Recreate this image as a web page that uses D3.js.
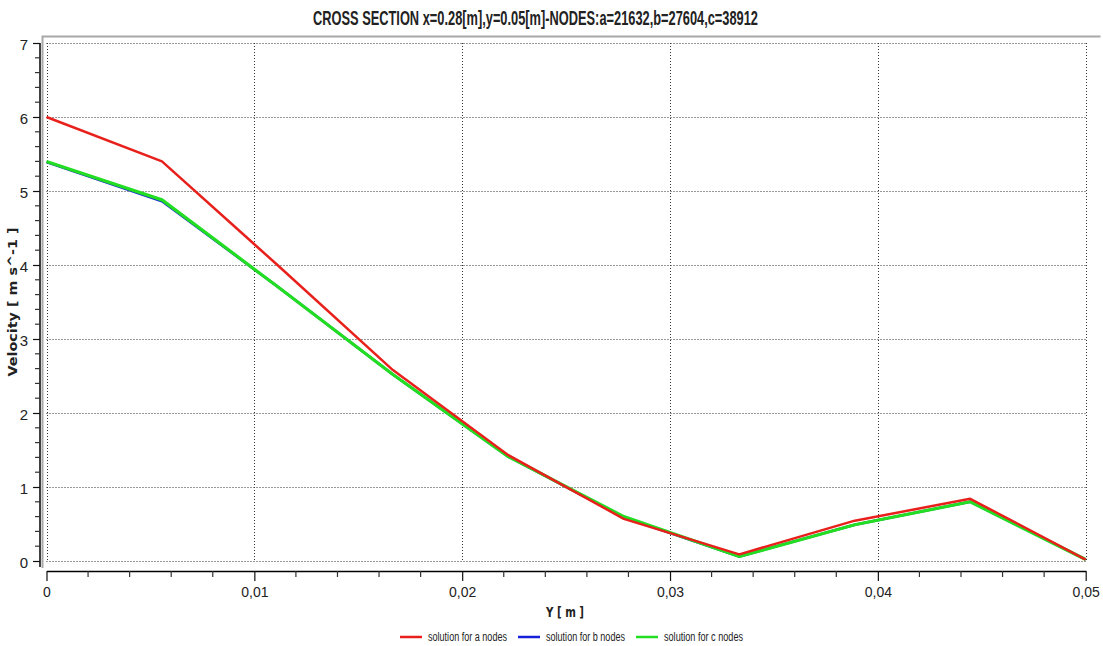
<!DOCTYPE html>
<html>
<head>
<meta charset="utf-8">
<script src="https://cdn.jsdelivr.net/npm/d3@7/dist/d3.min.js"></script>
<style>
  html, body { margin: 0; padding: 0; background: #fff; }
  svg { display: block; }
  text { fill: #222; }
</style>
</head>
<body>
<svg id="chart" width="1103" height="646"></svg>
<script>
// Sample positions across the section (Y, metres)
const positions = [0, 0.005556, 0.011111, 0.016667, 0.022222, 0.027778, 0.033333, 0.038889, 0.044444, 0.05];
// Velocity profiles for the three meshes (m/s)
const velocityA = [6.00, 5.40, 4.00, 2.58, 1.43, 0.57, 0.09, 0.545, 0.84, 0.02];
const velocityB = [5.39, 4.86, 3.71, 2.52, 1.41, 0.59, 0.06, 0.49, 0.80, 0.02];
const velocityC = [5.40, 4.88, 3.71, 2.52, 1.41, 0.60, 0.06, 0.49, 0.80, 0.02];

const seriesNames = ["solution for a nodes", "solution for b nodes", "solution for c nodes"];
const seriesColors = ["#e8201c", "#1520d8", "#22dd22"];

const xTickValues = [0, 0.01, 0.02, 0.03, 0.04, 0.05];
const xTickLabels = ["0", "0,01", "0,02", "0,03", "0,04", "0,05"];
const yTickValues = [0, 1, 2, 3, 4, 5, 6, 7];

const titleText = "CROSS SECTION x=0.28[m],y=0.05[m]-NODES:a=21632,b=27604,c=38912";
const xTitle = "Y [ m ]";
const yTitle = "Velocity [ m s^-1 ]";

const svg = d3.select("#chart");
const narrow = "'Liberation Sans Narrow', 'Arial Narrow', 'Liberation Sans', sans-serif";

const x = d3.scaleLinear().domain([0, 0.05]).range([46.5, 1085.7]);
const y = d3.scaleLinear().domain([0, 7]).range([561, 43]);

// plot frame
svg.append("path")
  .attr("d", "M42.5,568 V36.5 H1100.5")
  .attr("fill", "none").attr("stroke", "#a8a8a8").attr("stroke-width", 2);

// dotted grid
const grid = svg.append("g").attr("stroke", "#333").attr("stroke-width", 1).attr("stroke-dasharray", "1,2");
grid.selectAll("line.v").data(xTickValues).join("line")
  .attr("x1", d => Math.round(x(d)) + 0.5).attr("x2", d => Math.round(x(d)) + 0.5)
  .attr("y1", y(7)).attr("y2", y(0));
grid.selectAll("line.h").data(yTickValues).join("line")
  .attr("y1", d => Math.round(y(d)) + 0.5).attr("y2", d => Math.round(y(d)) + 0.5)
  .attr("x1", x(0)).attr("x2", x(0.05));

// x axis
const xAxis = d3.axisBottom(x)
  .tickValues(xTickValues)
  .tickFormat((d, i) => xTickLabels[i])
  .tickSize(10).tickSizeOuter(0).tickPadding(6);
const gx = svg.append("g").attr("transform", "translate(0,571)").call(xAxis);
gx.select(".domain").attr("stroke", "#000").attr("stroke-width", 1.5);
gx.selectAll(".tick line").attr("stroke", "#111").attr("stroke-width", 1.2);
gx.selectAll(".tick text").attr("font-family", narrow).attr("font-size", 14).attr("fill", "#222");
const xMinor = d3.range(0, 0.0501, 0.002).filter(v => Math.abs(v / 0.01 - Math.round(v / 0.01)) > 1e-6);
gx.selectAll("line.minor").data(xMinor).join("line")
  .attr("x1", d => x(d)).attr("x2", d => x(d)).attr("y1", 0).attr("y2", 6)
  .attr("stroke", "#333").attr("stroke-width", 1.2);

// y axis
const yAxis = d3.axisLeft(y)
  .tickValues(yTickValues)
  .tickFormat(d3.format("d"))
  .tickSize(7).tickSizeOuter(0).tickPadding(5);
const gy = svg.append("g").attr("transform", "translate(40,0)").call(yAxis);
gy.select(".domain").attr("stroke", "#000").attr("stroke-width", 1.5)
  .attr("d", `M0,${y(7)}V567`);
gy.selectAll(".tick line").attr("stroke", "#111").attr("stroke-width", 1.2);
gy.selectAll(".tick text").attr("font-family", narrow).attr("font-size", 15).attr("fill", "#222").attr("dy", "0.4em");
const yMinor = d3.range(0, 7.01, 0.2).filter(v => Math.abs(v - Math.round(v)) > 1e-6);
gy.selectAll("line.minor").data(yMinor).join("line")
  .attr("y1", d => y(d)).attr("y2", d => y(d)).attr("x1", 0).attr("x2", -5)
  .attr("stroke", "#333").attr("stroke-width", 1.2);

// series lines
const line = d3.line().x((d, i) => x(positions[i])).y(d => y(d));
const series = [velocityA, velocityB, velocityC];
const widths = [2.5, 2.4, 3.2];
[1, 2, 0].forEach(k => {
  svg.append("path").datum(series[k])
    .attr("d", line)
    .attr("fill", "none")
    .attr("stroke", seriesColors[k])
    .attr("stroke-width", widths[k])
    .attr("stroke-linejoin", "round");
});

// title
svg.append("text")
  .attr("x", 535.5).attr("y", 25)
  .attr("text-anchor", "middle")
  .attr("font-family", narrow).attr("font-weight", "bold").attr("font-size", 20)
  .attr("textLength", 445).attr("lengthAdjust", "spacingAndGlyphs")
  .text(titleText);

// axis titles
svg.append("text")
  .attr("x", 565).attr("y", 617)
  .attr("text-anchor", "middle")
  .attr("font-family", "'DejaVu Sans', sans-serif").attr("font-weight", "bold").attr("font-size", 14)
  .attr("textLength", 38).attr("lengthAdjust", "spacingAndGlyphs")
  .text(xTitle);

svg.append("text")
  .attr("transform", "translate(17,302) rotate(-90)")
  .attr("text-anchor", "middle")
  .attr("font-family", "'DejaVu Sans', sans-serif").attr("font-weight", "bold").attr("font-size", 11.5)
  .attr("textLength", 149).attr("lengthAdjust", "spacingAndGlyphs")
  .text(yTitle);

// legend
const legendX = [400, 518, 636];
const legend = svg.append("g");
seriesNames.forEach((name, i) => {
  const g = legend.append("g").attr("transform", `translate(${legendX[i]},637)`);
  g.append("line").attr("x1", 0).attr("x2", 22).attr("y1", 0).attr("y2", 0)
    .attr("stroke", seriesColors[i]).attr("stroke-width", 2.5);
  g.append("text").attr("x", 28).attr("y", 4)
    .attr("font-family", narrow).attr("font-size", 12)
    .attr("textLength", 79).attr("lengthAdjust", "spacingAndGlyphs")
    .text(name);
});
</script>
</body>
</html>
